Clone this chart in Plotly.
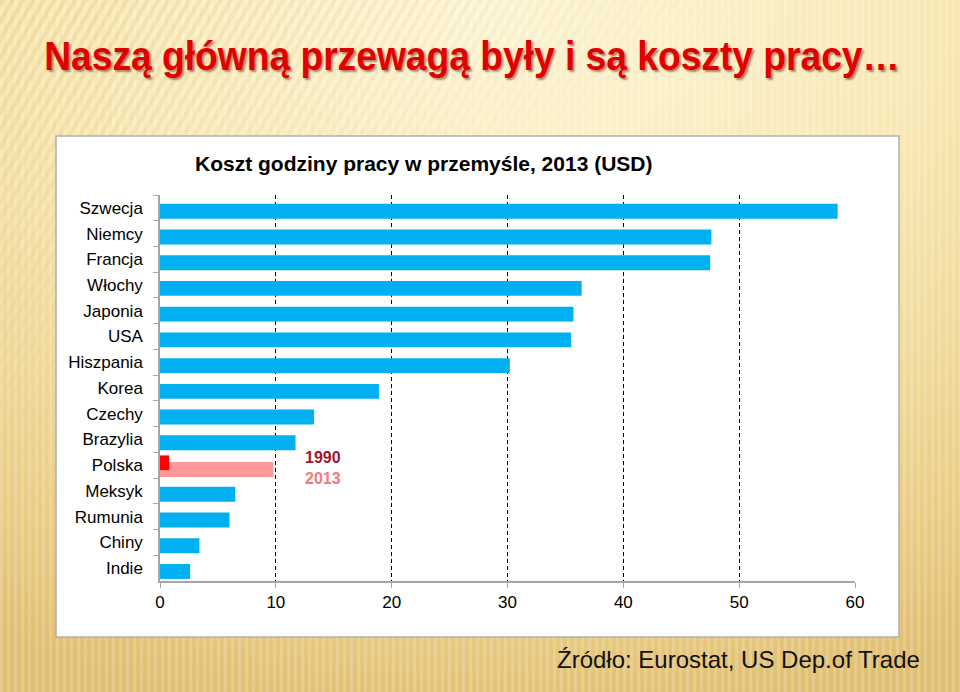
import base64
import plotly.graph_objects as go

# ---------------- data ----------------
countries = ["Szwecja", "Niemcy", "Francja", "Włochy", "Japonia", "USA", "Hiszpania",
             "Korea", "Czechy", "Brazylia", "Polska", "Meksyk", "Rumunia", "Chiny", "Indie"]
cost_2013 = [58.5, 47.6, 47.5, 36.4, 35.7, 35.5, 30.2, 18.9, 13.3, 11.7, 9.8, 6.5, 6.0, 3.4, 2.6]
poland_1990 = 0.8
highlight = "Polska"

x_ticks = [0, 10, 20, 30, 40, 50, 60]

main_title = "Naszą główną przewagą były i są koszty pracy…"
chart_title = "Koszt godziny pracy w przemyśle, 2013 (USD)"
source_text = "Źródło: Eurostat, US Dep.of Trade"

W, H = 960, 692

# ---------------- background image (svg) ----------------
svg = f'''<svg xmlns="http://www.w3.org/2000/svg" width="{W}" height="{H}" viewBox="0 0 {W} {H}" preserveAspectRatio="none">
<defs>
<radialGradient id="g" cx="0.5" cy="0.0" r="1.05" gradientUnits="objectBoundingBox">
<stop offset="0" stop-color="#fdf6d8"/>
<stop offset="0.45" stop-color="#f8e8b4"/>
<stop offset="0.8" stop-color="#ebcf89"/>
<stop offset="1" stop-color="#e1bf72"/>
</radialGradient>
<pattern id="v" width="7" height="{H}" patternUnits="userSpaceOnUse">
<rect x="0" y="0" width="3" height="{H}" fill="#ffffff" opacity="0.17"/>
</pattern>
<pattern id="d" width="9" height="9" patternUnits="userSpaceOnUse" patternTransform="rotate(30)">
<rect x="0" y="0" width="4" height="9" fill="#e6cb86" opacity="0.45"/>
</pattern>
<linearGradient id="fade" x1="0" y1="0" x2="1" y2="1">
<stop offset="0" stop-color="#fff" stop-opacity="1"/>
<stop offset="0.4" stop-color="#fff" stop-opacity="0"/>
</linearGradient>
<mask id="m"><rect width="{W}" height="{H}" fill="url(#fade)"/></mask>
</defs>
<rect width="{W}" height="{H}" fill="url(#g)"/>
<rect width="{W}" height="{H}" fill="url(#v)"/>
<rect width="{W}" height="{H}" fill="url(#d)" mask="url(#m)"/>
</svg>'''
bg_src = "data:image/svg+xml;base64," + base64.b64encode(svg.encode("utf-8")).decode("ascii")


def px(x):
    return x / W


def py(y):
    return 1 - y / H


# ---------------- traces ----------------
blue_vals = [None if c == highlight else v for c, v in zip(countries, cost_2013)]
pol_2013 = cost_2013[countries.index(highlight)]

fig = go.Figure()
fig.add_trace(go.Bar(
    y=countries, x=blue_vals, orientation="h",
    marker=dict(color="#00B0F0", line=dict(width=0)),
    offset=-0.16, width=0.58, showlegend=False, name="2013"))
fig.add_trace(go.Bar(
    y=[highlight], x=[pol_2013], orientation="h",
    marker=dict(color="#FF9999", line=dict(width=0)),
    offset=-0.12, width=0.58, showlegend=False, name="2013"))
fig.add_trace(go.Bar(
    y=[highlight], x=[poland_1990], orientation="h",
    marker=dict(color="#FF0000", line=dict(width=0)),
    offset=-0.38, width=0.57, showlegend=False, name="1990"))

fig.update_layout(
    width=W, height=H,
    margin=dict(l=0, r=0, t=0, b=0, autoexpand=False),
    paper_bgcolor="#f6e4ac",
    plot_bgcolor="rgba(0,0,0,0)",
    barmode="overlay",
    font=dict(family="Liberation Sans, Arial, sans-serif", color="#000000", size=17),
    xaxis=dict(
        domain=[px(160), px(855)],
        range=[0, 60], tickvals=x_ticks, ticktext=[str(t) for t in x_ticks],
        showgrid=True, gridcolor="#000000", gridwidth=1, griddash="4px,3px",
        zeroline=False, showline=True, linecolor="#a6a6a6", linewidth=1.5,
        ticks="outside", ticklen=5, tickcolor="#a6a6a6", tickwidth=1,
        tickfont=dict(size=17), fixedrange=True, automargin=False,
    ),
    yaxis=dict(
        domain=[py(581), py(195)],
        categoryorder="array", categoryarray=countries,
        autorange="reversed",
        showgrid=False, zeroline=False,
        showline=True, linecolor="#a6a6a6", linewidth=1.5,
        ticks="outside", ticklen=5, tickcolor="#a6a6a6", tickson="boundaries",
        tickfont=dict(size=17), ticklabelstandoff=12,
        fixedrange=True, automargin=False,
    ),
    images=[dict(source=bg_src, xref="paper", yref="paper", x=0, y=1,
                 sizex=1, sizey=1, sizing="stretch", layer="below",
                 xanchor="left", yanchor="top")],
    shapes=[dict(type="rect", xref="paper", yref="paper",
                 x0=px(56), x1=px(899), y0=py(637), y1=py(136),
                 fillcolor="#ffffff", line=dict(color="#b0b0b0", width=1.5), layer="below")],
)

annotations = [
    dict(text=main_title, xref="paper", yref="paper", x=px(42), y=py(56),
         xanchor="left", yanchor="middle", showarrow=False,
         font=dict(family="Liberation Sans, Arial, sans-serif",
                   size=41, color="#E00000", weight="bold",
                   shadow="2px 2px 2px rgba(90,0,0,0.45)")),
    dict(text=chart_title, xref="paper", yref="paper", x=px(423), y=py(164),
         xanchor="center", yanchor="middle", showarrow=False,
         font=dict(size=21, color="#000000", weight="bold")),
    dict(text="1990", xref="paper", yref="paper", x=px(323), y=py(457),
         xanchor="center", yanchor="middle", showarrow=False,
         font=dict(size=16, color="#A0162B", weight="bold")),
    dict(text="2013", xref="paper", yref="paper", x=px(323), y=py(478),
         xanchor="center", yanchor="middle", showarrow=False,
         font=dict(size=16, color="#F07A80", weight="bold")),
    dict(text=source_text, xref="paper", yref="paper", x=px(922), y=py(659),
         xanchor="right", yanchor="middle", showarrow=False,
         font=dict(size=24, color="#111111")),
]
fig.update_layout(annotations=annotations)

# remove default page margin and condense the headline horizontally (it is a condensed font in the original)
post_js = """
document.body.style.margin = '0';
document.body.style.overflow = 'hidden';
var gd = document.getElementsByClassName('plotly-graph-div')[0];
function squeezeTitle() {
  var t = gd.querySelector('.annotation[data-index="0"] text.annotation-text');
  if (!t) return;
  t.removeAttribute('transform');
  var bb = t.getBBox();
  var target = 856;
  var s = target / bb.width;
  var x0 = bb.x;
  t.setAttribute('transform', 'translate(' + x0 + ',0) scale(' + s + ',1) translate(' + (-x0) + ',0)');
}
squeezeTitle();
"""

fig.write_html("out.html", post_script=post_js, config={"displayModeBar": False})
